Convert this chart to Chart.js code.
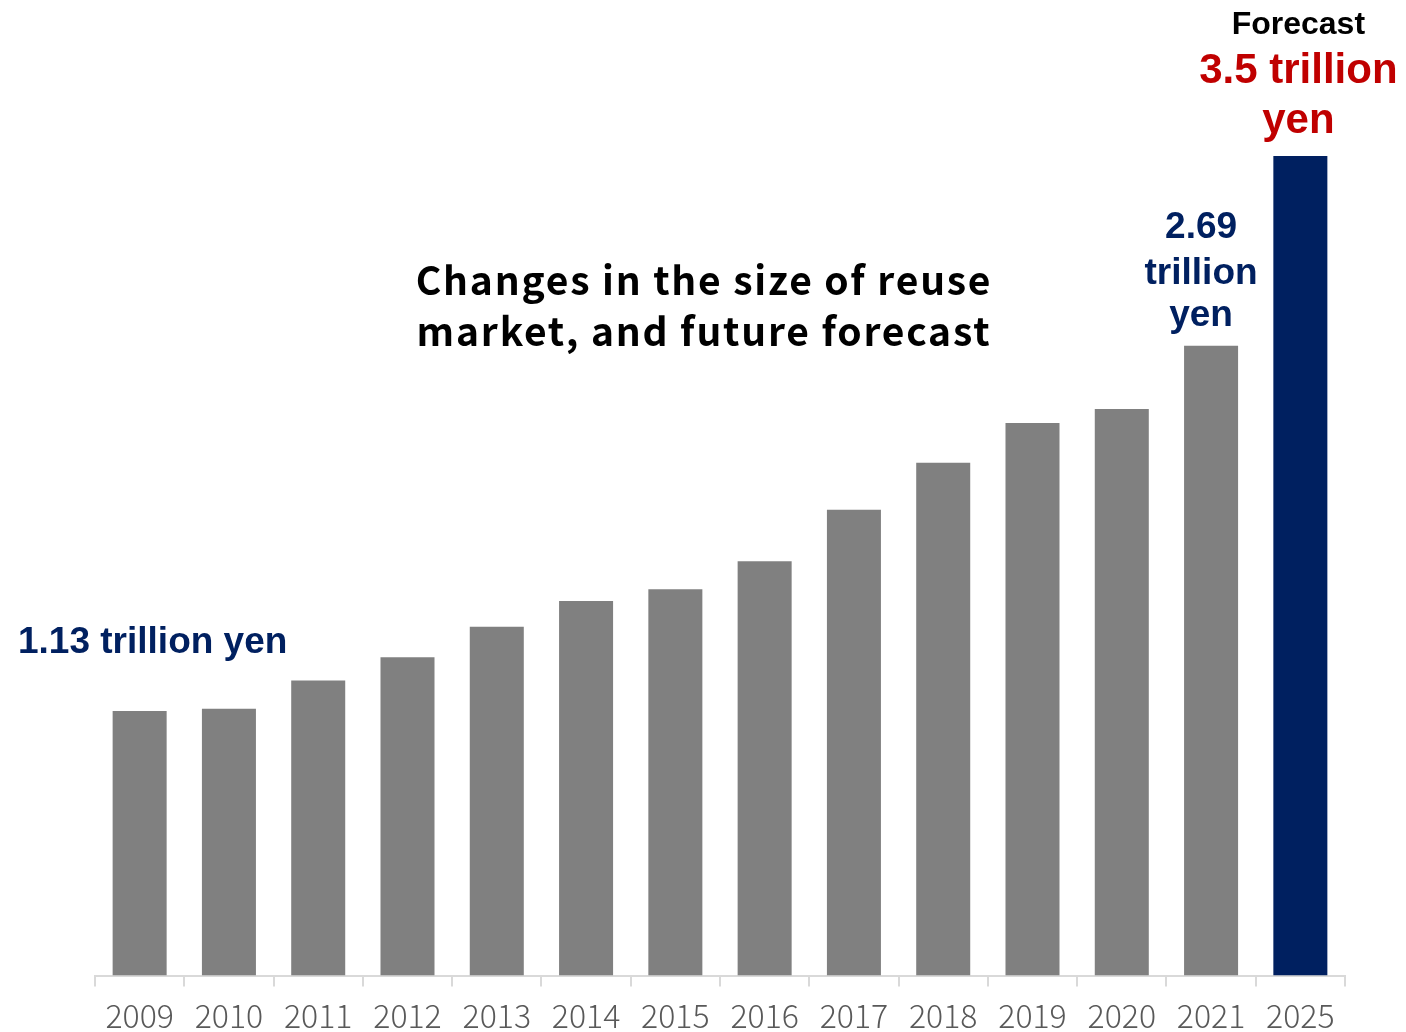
<!DOCTYPE html>
<html>
<head>
<meta charset="utf-8">
<script src="https://cdn.jsdelivr.net/npm/chart.js@4/dist/chart.umd.min.js"></script>
<style>
  html, body { margin: 0; padding: 0; background: #fff; }
  #wrap { width: 1406px; height: 1032px; position: relative; }
</style>
</head>
<body>
<div id="wrap"><canvas id="reuse-chart" width="1406" height="1032"></canvas></div>
<script>
// reuse market size, trillion yen
var years = ['2009', '2010', '2011', '2012', '2013', '2014', '2015', '2016', '2017', '2018', '2019', '2020', '2021', '2025'];
var marketSize = [1.13, 1.14, 1.26, 1.36, 1.49, 1.60, 1.65, 1.77, 1.99, 2.19, 2.36, 2.42, 2.69, 3.5];
var barColors = ['#808080', '#808080', '#808080', '#808080', '#808080', '#808080', '#808080', '#808080', '#808080', '#808080', '#808080', '#808080', '#808080', '#002060'];
var titleLines = ['Changes in the size of reuse', 'market, and future forecast'];

var annotationsPlugin = {
  id: 'annotations',
  afterDatasetsDraw: function(chart) {
    var ctx = chart.ctx;
    var x = chart.scales.x, y = chart.scales.y;
    ctx.save();
    ctx.textAlign = 'center';
    ctx.textBaseline = 'alphabetic';

    // title in the middle
    ctx.fillStyle = '#000';
    ctx.font = 'bold 39px "Noto Sans CJK JP", "Noto Sans", sans-serif';
    ctx.letterSpacing = '1.8px';
    ctx.fillText(titleLines[0], 704, 295);
    ctx.fillText(titleLines[1], 704, 346);
    ctx.letterSpacing = '0px';

    // first year label
    ctx.fillStyle = '#002060';
    ctx.font = 'bold 37px "Liberation Sans", Arial, sans-serif';
    ctx.textAlign = 'left';
    ctx.fillText(marketSize[0].toFixed(2) + ' trillion yen', 18, 653);

    // 2021 label
    ctx.textAlign = 'center';
    var x21 = x.getPixelForValue(12);
    var top21 = y.getPixelForValue(marketSize[12]);
    ctx.fillText(marketSize[12].toFixed(2), x21 - 10, top21 - 108);
    ctx.fillText('trillion', x21 - 10, top21 - 62);
    ctx.fillText('yen', x21 - 10, top21 - 20);

    // forecast label
    var x25 = x.getPixelForValue(13);
    var top25 = y.getPixelForValue(marketSize[13]);
    ctx.fillStyle = '#000';
    ctx.font = 'bold 32px "Liberation Sans", Arial, sans-serif';
    ctx.fillText('Forecast', x25 - 2, top25 - 122);
    ctx.fillStyle = '#c00000';
    ctx.font = 'bold 42px "Liberation Sans", Arial, sans-serif';
    ctx.fillText(marketSize[13] + ' trillion', x25 - 2, top25 - 73);
    ctx.fillText('yen', x25 - 2, top25 - 23);
    ctx.restore();
  }
};

var canvas = document.getElementById('reuse-chart');
var chart = new Chart(canvas, {
  type: 'bar',
  data: {
    labels: years,
    datasets: [{
      data: marketSize,
      backgroundColor: barColors,
      categoryPercentage: 1,
      barPercentage: 0.605
    }]
  },
  options: {
    responsive: false,
    animation: false,
    events: [],
    layout: {
      padding: { left: 95, right: 61, top: 39, bottom: -13 }
    },
    plugins: {
      legend: { display: false },
      tooltip: { enabled: false }
    },
    scales: {
      x: {
        grid: {
          display: true,
          offset: true,
          drawOnChartArea: false,
          drawTicks: true,
          tickLength: 11,
          color: '#d9d9d9',
          lineWidth: 2
        },
        border: { display: true, color: '#d9d9d9', width: 2 },
        ticks: {
          color: '#595959',
          padding: 10,
          maxRotation: 0,
          font: { family: '"Noto Sans CJK JP", "Noto Sans", sans-serif', size: 32, weight: '300' }
        }
      },
      y: {
        display: false,
        min: 0,
        max: 4
      }
    }
  },
  plugins: [annotationsPlugin]
});
</script>
</body>
</html>
